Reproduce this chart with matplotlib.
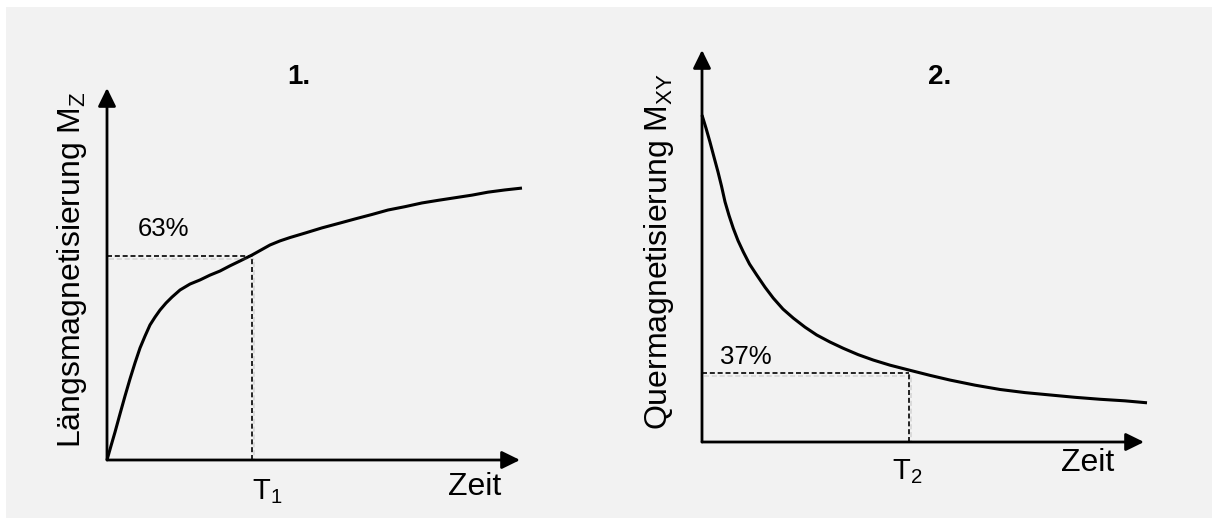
import numpy as np
import matplotlib
matplotlib.use("Agg")
import matplotlib.pyplot as plt
import matplotlib.patheffects as pe
from matplotlib.patches import Rectangle

plt.rcParams["font.family"] = ["Liberation Sans", "DejaVu Sans"]
plt.rcParams["mathtext.fontset"] = "custom"
plt.rcParams["mathtext.rm"] = "Liberation Sans"
plt.rcParams["mathtext.it"] = "Liberation Sans:italic"

# ---------------------------------------------------------
# Data (time axis 0..10, magnetisation 0..1)
# ---------------------------------------------------------
t1_time = [0, 0.097, 0.194, 0.315, 0.436, 0.557, 0.678, 0.799, 0.920, 1.041, 1.162,
           1.283, 1.429, 1.574, 1.768, 2.010, 2.252, 2.494, 2.736, 2.978, 3.220, 3.511,
           3.705, 3.947, 4.189, 4.431, 4.794, 5.206, 5.642, 6.005, 6.416, 6.804, 7.215,
           7.627, 8.015, 8.426, 8.838, 9.225, 9.637, 10.048]
t1_mz = [0, 0.038, 0.075, 0.124, 0.172, 0.218, 0.261, 0.301, 0.333, 0.363, 0.384,
         0.403, 0.422, 0.438, 0.457, 0.473, 0.484, 0.497, 0.508, 0.522, 0.535, 0.551,
         0.563, 0.578, 0.589, 0.598, 0.610, 0.624, 0.637, 0.648, 0.660, 0.672, 0.681,
         0.691, 0.698, 0.705, 0.712, 0.720, 0.726, 0.731]
T1 = 3.50
level_63 = 0.549

t2_time = [0, 0.090, 0.181, 0.271, 0.362, 0.441, 0.520, 0.611, 0.708, 0.814, 0.934,
           1.075, 1.238, 1.425, 1.613, 1.833, 2.066, 2.330, 2.595, 2.896, 3.197, 3.529,
           3.876, 4.253, 4.667, 5.158, 5.611, 6.176, 6.742, 7.308, 7.873, 8.439, 9.005,
           9.570, 10.068]
t2_mxy = [0.834, 0.801, 0.765, 0.727, 0.689, 0.653, 0.613, 0.578, 0.545, 0.514, 0.485,
          0.454, 0.426, 0.395, 0.367, 0.339, 0.316, 0.293, 0.273, 0.255, 0.239, 0.223,
          0.209, 0.196, 0.184, 0.170, 0.158, 0.145, 0.134, 0.126, 0.120, 0.114, 0.109,
          0.105, 0.100]
T2 = 4.683
level_37 = 0.175

W, H = 1214, 522
fig = plt.figure(figsize=(W / 100, H / 100), dpi=100, facecolor="white")
fig.patches.append(Rectangle((6 / W, 4 / H), 1206 / W, 511 / H, transform=fig.transFigure,
                             facecolor="#f2f2f2", edgecolor="none", zorder=-10))


def draw_panel(rect, time, mag, T, level, pct, tlabel, ylabel, title, pos):
    ax = fig.add_axes(rect)
    ax.set_xlim(0, 10)
    ax.set_ylim(0, 1)
    ax.axis("off")

    # axes with arrow heads
    arrow = dict(arrowstyle="-|>,head_length=0.55,head_width=0.27", lw=2.0, color="black",
                 mutation_scale=20, shrinkA=0, shrinkB=0)
    ax.annotate("", xy=(10, 0), xytext=(0, 0), arrowprops=arrow, annotation_clip=False)
    ax.annotate("", xy=(0, 1), xytext=(0, 0), arrowprops=arrow, annotation_clip=False)

    ax.plot(time, mag, color="black", lw=2.2, solid_capstyle="butt",
            solid_joinstyle="round", clip_on=False)

    # dashed helper lines with a soft shadow
    shadow = [pe.SimpleLineShadow(offset=(1.5, -2), shadow_color="gray", alpha=0.25), pe.Normal()]
    ax.plot([0, T], [level, level], color="black", lw=1.2, ls=(0, (3, 1.7)), path_effects=shadow)
    ax.plot([T, T], [0, level], color="black", lw=1.2, ls=(0, (3, 1.7)), path_effects=shadow)

    ax.text(pos["pct"][0], pos["pct"][1], pct, fontsize=18.5, ha="center", va="center")
    ax.text(pos["T"][0], pos["T"][1], tlabel, fontsize=21, ha="center", va="center")
    ax.text(pos["zeit"][0], pos["zeit"][1], "Zeit", fontsize=23, ha="center", va="center")
    ax.text(pos["title"][0], pos["title"][1], title, fontsize=20, fontweight="bold",
            ha="center", va="center")
    ax.text(pos["ylabel"][0], pos["ylabel"][1], ylabel, fontsize=23, rotation=90,
            ha="center", va="center")
    return ax


draw_panel([107 / W, 62 / H, 413 / W, 372 / H], t1_time, t1_mz, T1, level_63, "63%",
           r"T$_\mathregular{1}$", r"Längsmagnetisierung M$_\mathregular{Z}$", "1.",
           {"pct": (1.38, 0.621), "T": (3.87, -0.085), "zeit": (8.91, -0.073),
            "title": (4.65, 1.03), "ylabel": (-0.85, 0.513)})

draw_panel([702 / W, 80 / H, 442 / W, 392 / H], t2_time, t2_mxy, T2, level_37, "37%",
           r"T$_\mathregular{2}$", r"Quermagnetisierung M$_\mathregular{XY}$", "2.",
           {"pct": (1.0, 0.217), "T": (4.64, -0.075), "zeit": (8.73, -0.054),
            "title": (5.38, 0.931), "ylabel": (-0.97, 0.485)})

fig.savefig("out.png", dpi=100, facecolor=fig.get_facecolor())
